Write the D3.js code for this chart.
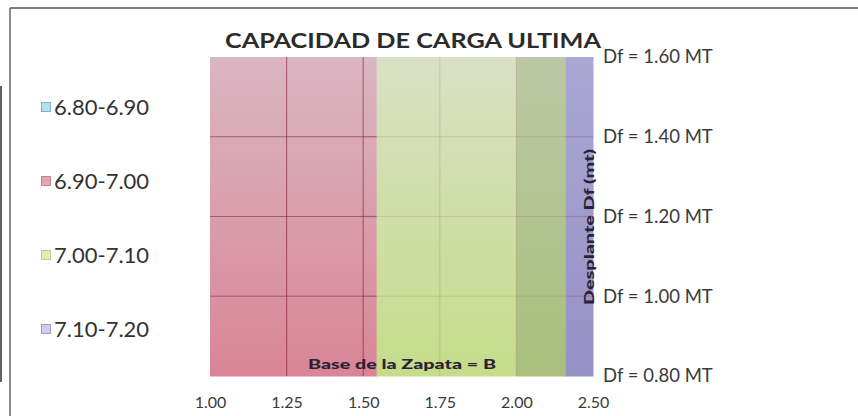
<!DOCTYPE html>
<html>
<head>
<meta charset="utf-8">
<script src="https://cdn.jsdelivr.net/npm/d3@7/dist/d3.min.js"></script>
<style>
  html, body { margin: 0; padding: 0; background: #ffffff; }
  svg { display: block; }
  text { font-family: Lato, "Open Sans", sans-serif; }
</style>
</head>
<body>
<svg id="chart" width="858" height="416"></svg>
<script>
// Footing width B (m) along the horizontal axis
const baseLabels = ["1.00", "1.25", "1.50", "1.75", "2.00", "2.50"];
// Foundation depth Df (m), bottom to top
const depthValues = [0.80, 1.00, 1.20, 1.40, 1.60];
const depthLabels = ["Df = 0.80 MT", "Df = 1.00 MT", "Df = 1.20 MT", "Df = 1.40 MT", "Df = 1.60 MT"];
// Ultimate bearing capacity, one row per depth, one value per width
const capacity = [
  [6.95, 6.97, 6.993, 7.033, 7.042, 7.132],
  [6.95, 6.97, 6.993, 7.033, 7.042, 7.132],
  [6.95, 6.97, 6.993, 7.033, 7.042, 7.132],
  [6.95, 6.97, 6.993, 7.033, 7.042, 7.132],
  [6.95, 6.97, 6.993, 7.033, 7.042, 7.132]
];
// Contour bands
const bandLabels = ["6.80-6.90", "6.90-7.00", "7.00-7.10", "7.10-7.20"];
const bandBreaks = [6.80, 6.90, 7.00, 7.10, 7.20];

const bandStyle = [
  { swatch: "#b8e0ec", edge: "#78b4cc", flat: ["#cfeaf2", "#a9d6e6"], steep: ["#b0cfdb", "#8fbccd"], grid: 0.3 },
  { swatch: "#e6a4ae", edge: "#c48490", flat: ["#dab6c2", "#d98596"], steep: ["#c9a3ae", "#c57283"], grid: 0.5 },
  { swatch: "#e4eab0", edge: "#c4ca92", flat: ["#d9e0c4", "#c5dc8a"], steep: ["#bcc8a5", "#a9bf7b"], grid: 0.12 },
  { swatch: "#d0cced", edge: "#a09cc8", flat: ["#cac6e8", "#bab4e0"], steep: ["#aaa7d3", "#9690c6"], grid: 0.2 }
];

const svg = d3.select("#chart");
const plot = { left: 210, right: 593, top: 57, bottom: 376 };

const x = d3.scalePoint().domain(baseLabels).range([plot.left, plot.right]);
const y = d3.scaleLinear().domain([0.80, 1.60]).range([plot.bottom, plot.top]);
const band = d3.scaleThreshold().domain(bandBreaks.slice(1, -1)).range(d3.range(bandLabels.length));
// facets whose capacity changes quickly are lit darker
const steepness = d3.scaleThreshold().domain([0.06]).range(["flat", "steep"]);

// chart frame
svg.append("line").attr("x1", 10).attr("x2", 858).attr("y1", 8).attr("y2", 8)
  .attr("stroke", "#7d7d7d").attr("stroke-width", 2);
svg.append("line").attr("x1", 10).attr("x2", 10).attr("y1", 8).attr("y2", 416)
  .attr("stroke", "#6f6f6f").attr("stroke-width", 1.6);
svg.append("line").attr("x1", 1).attr("x2", 1).attr("y1", 86).attr("y2", 382)
  .attr("stroke", "#3a3a3a").attr("stroke-width", 1.6);

// vertical lighting gradients per band and facet steepness
const defs = svg.append("defs");
bandStyle.forEach((s, k) => {
  ["flat", "steep"].forEach(kind => {
    const g = defs.append("linearGradient")
      .attr("id", `g${k}${kind}`)
      .attr("gradientUnits", "userSpaceOnUse")
      .attr("x1", 0).attr("x2", 0).attr("y1", plot.top).attr("y2", plot.bottom);
    g.append("stop").attr("offset", "0%").attr("stop-color", s[kind][0]);
    g.append("stop").attr("offset", "100%").attr("stop-color", s[kind][1]);
  });
});

// build contour pieces: each cell split where the surface crosses a band break
const pieces = [];
const gridSegs = [];
for (let j = 0; j < depthValues.length - 1; j++) {
  const y0 = y(depthValues[j]), y1 = y(depthValues[j + 1]);
  for (let i = 0; i < baseLabels.length - 1; i++) {
    const va = (capacity[j][i] + capacity[j + 1][i]) / 2;
    const vb = (capacity[j][i + 1] + capacity[j + 1][i + 1]) / 2;
    const xa = x(baseLabels[i]), xb = x(baseLabels[i + 1]);
    const toX = d3.scaleLinear().domain([va, vb]).range([xa, xb]);
    const kind = steepness(Math.abs(vb - va));
    const cuts = bandBreaks.filter(b => b > Math.min(va, vb) && b < Math.max(va, vb)).map(toX);
    const xs = [xa, ...cuts.sort((p, q) => p - q), xb];
    for (let c = 0; c < xs.length - 1; c++) {
      const mid = toX.invert((xs[c] + xs[c + 1]) / 2);
      const k = band(mid);
      pieces.push({ x0: xs[c], x1: xs[c + 1], y0: y1, y1: y0, k, kind });
      // horizontal grid line at the top of this cell row (inside the plot)
      if (j + 1 < depthValues.length - 1) {
        gridSegs.push({ x1: xs[c], x2: xs[c + 1], y1: y1, y2: y1, k });
      }
      // vertical grid line at the column position
      if (c === 0 && i > 0) {
        gridSegs.push({ x1: xa, x2: xa, y1: y1, y2: y0, k });
      }
    }
  }
}

svg.append("g").selectAll("rect").data(pieces).join("rect")
  .attr("x", d => d.x0).attr("y", d => d.y0)
  .attr("width", d => d.x1 - d.x0 + 0.5).attr("height", d => d.y1 - d.y0 + 0.5)
  .attr("fill", d => `url(#g${d.k}${d.kind})`);

svg.append("g").selectAll("line").data(gridSegs).join("line")
  .attr("x1", d => d.x1).attr("x2", d => d.x2).attr("y1", d => d.y1).attr("y2", d => d.y2)
  .attr("stroke", "#7a1030").attr("stroke-opacity", d => bandStyle[d.k].grid)
  .attr("stroke-width", 1.2);

// title
svg.append("text").attr("x", 413).attr("y", 48).attr("text-anchor", "middle")
  .attr("font-size", 21).attr("font-weight", 700).attr("fill", "#2b2b2b")
  .attr("textLength", 376).attr("lengthAdjust", "spacingAndGlyphs")
  .text("CAPACIDAD DE CARGA ULTIMA");

// horizontal axis
const xAxis = svg.append("g").attr("transform", `translate(0,${plot.bottom})`)
  .call(d3.axisBottom(x).tickSize(0).tickPadding(21));
xAxis.select(".domain").remove();
xAxis.selectAll("text").attr("font-size", 16).attr("fill", "#3a3a3a")
  .attr("font-family", "Lato, sans-serif");

// depth labels on the right
const yAxis = svg.append("g").attr("transform", `translate(${plot.right},0)`)
  .call(d3.axisRight(y).tickValues(depthValues).tickSize(0).tickPadding(10)
    .tickFormat((d, i) => depthLabels[i]));
yAxis.select(".domain").remove();
yAxis.selectAll("text").attr("font-size", 18.5).attr("fill", "#3a3a3a")
  .attr("font-family", "Lato, sans-serif");

// axis titles
svg.append("text").attr("x", 402).attr("y", 369).attr("text-anchor", "middle")
  .attr("font-size", 14).attr("font-weight", 900).attr("fill", "#2a2233")
  .attr("textLength", 188).attr("lengthAdjust", "spacingAndGlyphs")
  .text("Base de la Zapata = B");
svg.append("text").attr("transform", `translate(594,227) rotate(-90)`)
  .attr("text-anchor", "middle").attr("font-size", 14).attr("font-weight", 900)
  .attr("fill", "#2a2233")
  .attr("textLength", 156).attr("lengthAdjust", "spacingAndGlyphs")
  .text("Desplante Df (mt)");

// legend
const legend = svg.append("g").selectAll("g").data(bandLabels).join("g")
  .attr("transform", (d, i) => `translate(41,${107 + i * 74})`);
legend.append("rect").attr("x", 0.5).attr("y", -4.5).attr("width", 9).attr("height", 9)
  .attr("fill", (d, i) => bandStyle[i].swatch).attr("stroke", (d, i) => bandStyle[i].edge);
legend.append("text").attr("x", 13).attr("y", 8).attr("font-size", 22).attr("fill", "#333")
  .text(d => d);
</script>
</body>
</html>
